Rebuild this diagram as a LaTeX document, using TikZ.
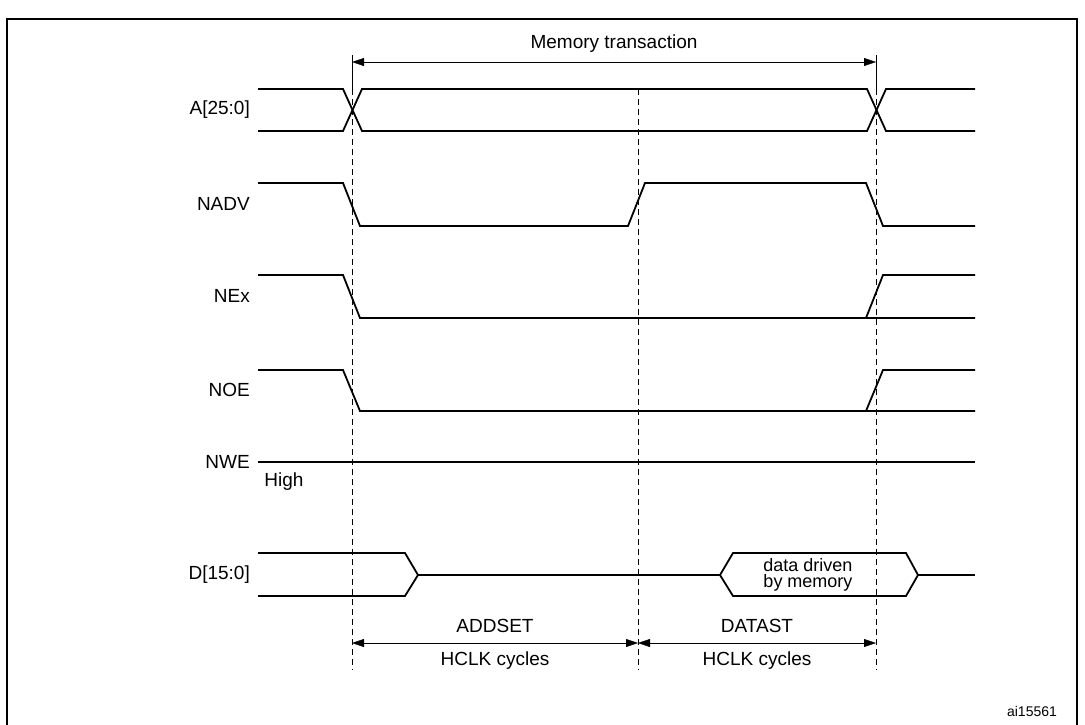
\documentclass[tikz,border=0pt]{standalone}
\usepackage{fontspec}
\setmainfont{Liberation Sans}
\usetikzlibrary{calc}
\usetikzlibrary{arrows.meta,positioning}
\tikzstyle{sig}=[line width=1.8pt]
\tikzstyle{guide}=[thin, dashed, dash pattern=on 6pt off 4pt]
\tikzstyle{dim}=[thin, {Triangle[length=12pt,width=8pt]}-{Triangle[length=12pt,width=8pt]}]
\tikzstyle{lbl}=[anchor=east, inner sep=0pt, font=\fontsize{19}{19}\selectfont]
\tikzstyle{txt}=[inner sep=0pt, align=center, font=\fontsize{19}{18}\selectfont]

\begin{document}
\begin{tikzpicture}[x=1pt, y=-1pt]
\useasboundingbox (0,0) rectangle (1085,724);
\draw [line width=2pt] (7,730) -- (7,19) -- (1077,19) -- (1077,730);
% guides
\coordinate (g1t) at (352,55);
\coordinate (g1) at (352,89);
\coordinate (g1b) at (352,670);
\coordinate (g2) at (638,89);
\coordinate (g2b) at (638,670);
\coordinate (g3t) at (876,55);
\coordinate (g3) at (876,89);
\coordinate (g3b) at (876,670);
\draw [thin] (g1t) -- (g1);
\draw [thin] (g3t) -- (g3);
\draw [guide] (g1) -- (g1b);
\draw [guide] (g2) -- (g2b);
\draw [guide] (g3) -- (g3b);
\draw [dim] ($(g1t)+(0,7)$) -- ($(g3t)+(0,7)$);
\node[txt] (mt) at (614,44) {Memory transaction};

% A[25:0]
\node[lbl] (a) at (250,110) {A[25:0]};
\draw [sig] (258,89) -- (343,89) -- (362,131) -- (867,131) -- (886,89) -- (975,89);
\draw [sig] (258,131) -- (343,131) -- (362,89) -- (867,89) -- (886,131) -- (975,131);

% NADV
\node[lbl] (nadv) at (250,204) {NADV};
\draw [sig] (258,183) -- (343,183) -- (360,226) -- (628,226) -- (645,183)
  -- (866,183) -- (883,226) -- (975,226);

% NEx
\node[lbl] (nex) at (250,296) {NEx};
\draw [sig] (258,275) -- (343,275) -- (360,318) -- (975,318);
\draw [sig] (866,318) -- (883,275) -- (975,275);

% NOE
\node[lbl] (noe) at (250,390) {NOE};
\draw [sig] (258,370) -- (343,370) -- (360,411) -- (975,411);
\draw [sig] (866,411) -- (883,370) -- (975,370);

% NWE
\node[lbl] (nwe) at (250,462) {NWE};
\draw [sig] (258,462) -- (975,462);
\node[txt] (high) at (284,482) {High};

% D[15:0]
\node[lbl] (d) at (250,575) {D[15:0]};
\draw [sig] (258,553) -- (405,553) -- (418,575) -- (405,596) -- (258,596);
\draw [sig] (418,575) -- (720,575);
\draw [sig] (720,575) -- (733,553) -- (906,553) -- (918,575) -- (906,596) -- (733,596) -- cycle;
\draw [sig] (918,575) -- (975,575);
\node[txt, font=\fontsize{18}{16}\selectfont] (dd) at (808,575) {data driven\\by memory};

% cycles
\draw [dim] (352,643) -- (638,643);
\draw [dim] (638,643) -- (876,643);
\node[txt] (as) at (495,626) {ADDSET};
\node[txt] (ash) at (495,661) {HCLK cycles};
\node[txt] (ds) at (757,626) {DATAST};
\node[txt] (dsh) at (757,661) {HCLK cycles};

\node[txt, font=\fontsize{14}{14}\selectfont] (ref) at (1032,711) {ai15561};
\end{tikzpicture}
\end{document}
